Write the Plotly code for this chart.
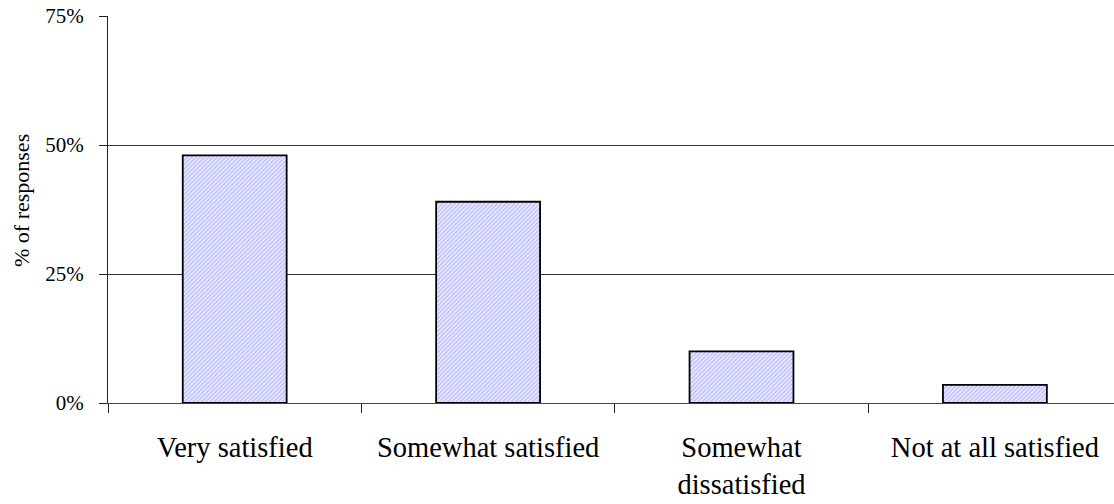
import plotly.graph_objects as go

# Survey results
categories = ["Very satisfied", "Somewhat satisfied", "Somewhat dissatisfied", "Not at all satisfied"]
tick_labels = ["Very satisfied", "Somewhat satisfied", "Somewhat<br>dissatisfied", "Not at all satisfied"]
shares = [48, 39, 10, 3.5]
y_ticks = [0, 25, 50, 75]
y_tick_labels = ["0%", "25%", "50%", "75%"]

FONT = "Liberation Serif"

fig = go.Figure(
    go.Bar(
        x=categories,
        y=shares,
        width=0.41,
        marker=dict(
            color="#ffffff",
            line=dict(color="#000000", width=1.8),
            pattern=dict(shape="/", size=3, solidity=0.5,
                         fgcolor="#8c8cff", bgcolor="#eeeeff"),
        ),
        hoverinfo="skip",
    )
)

fig.update_layout(
    width=1114,
    height=504,
    margin=dict(l=108, r=0, t=16, b=101),
    paper_bgcolor="white",
    plot_bgcolor="white",
    showlegend=False,
    font=dict(family=FONT, color="black"),
)

fig.update_xaxes(
    type="category",
    range=[-0.5, 3.47],
    tickvals=categories,
    ticktext=tick_labels,
    tickson="boundaries",
    ticks="outside",
    ticklen=9,
    tickwidth=1.3,
    tickcolor="#222222",
    showline=True,
    linecolor="#444444",
    linewidth=1.4,
    showgrid=False,
    tickfont=dict(family=FONT, size=28.5, color="black"),
    ticklabelstandoff=19,
)

fig.update_yaxes(
    range=[0, 75],
    tickvals=y_ticks,
    ticktext=y_tick_labels,
    ticks="outside",
    ticklen=8,
    tickwidth=1.3,
    tickcolor="#222222",
    showline=True,
    linecolor="#222222",
    linewidth=1.3,
    showgrid=True,
    gridcolor="#333333",
    gridwidth=1.3,
    zeroline=False,
    tickfont=dict(family=FONT, size=21, color="black"),
    ticklabelstandoff=11,
)

fig.add_annotation(
    text="% of responses",
    textangle=-90,
    xref="paper", yref="paper",
    x=(21 - 108) / 1006, y=(403 - 201) / 387,
    xanchor="center", yanchor="middle",
    showarrow=False,
    font=dict(family=FONT, size=22, color="black"),
)

fig.write_html("out.html")
